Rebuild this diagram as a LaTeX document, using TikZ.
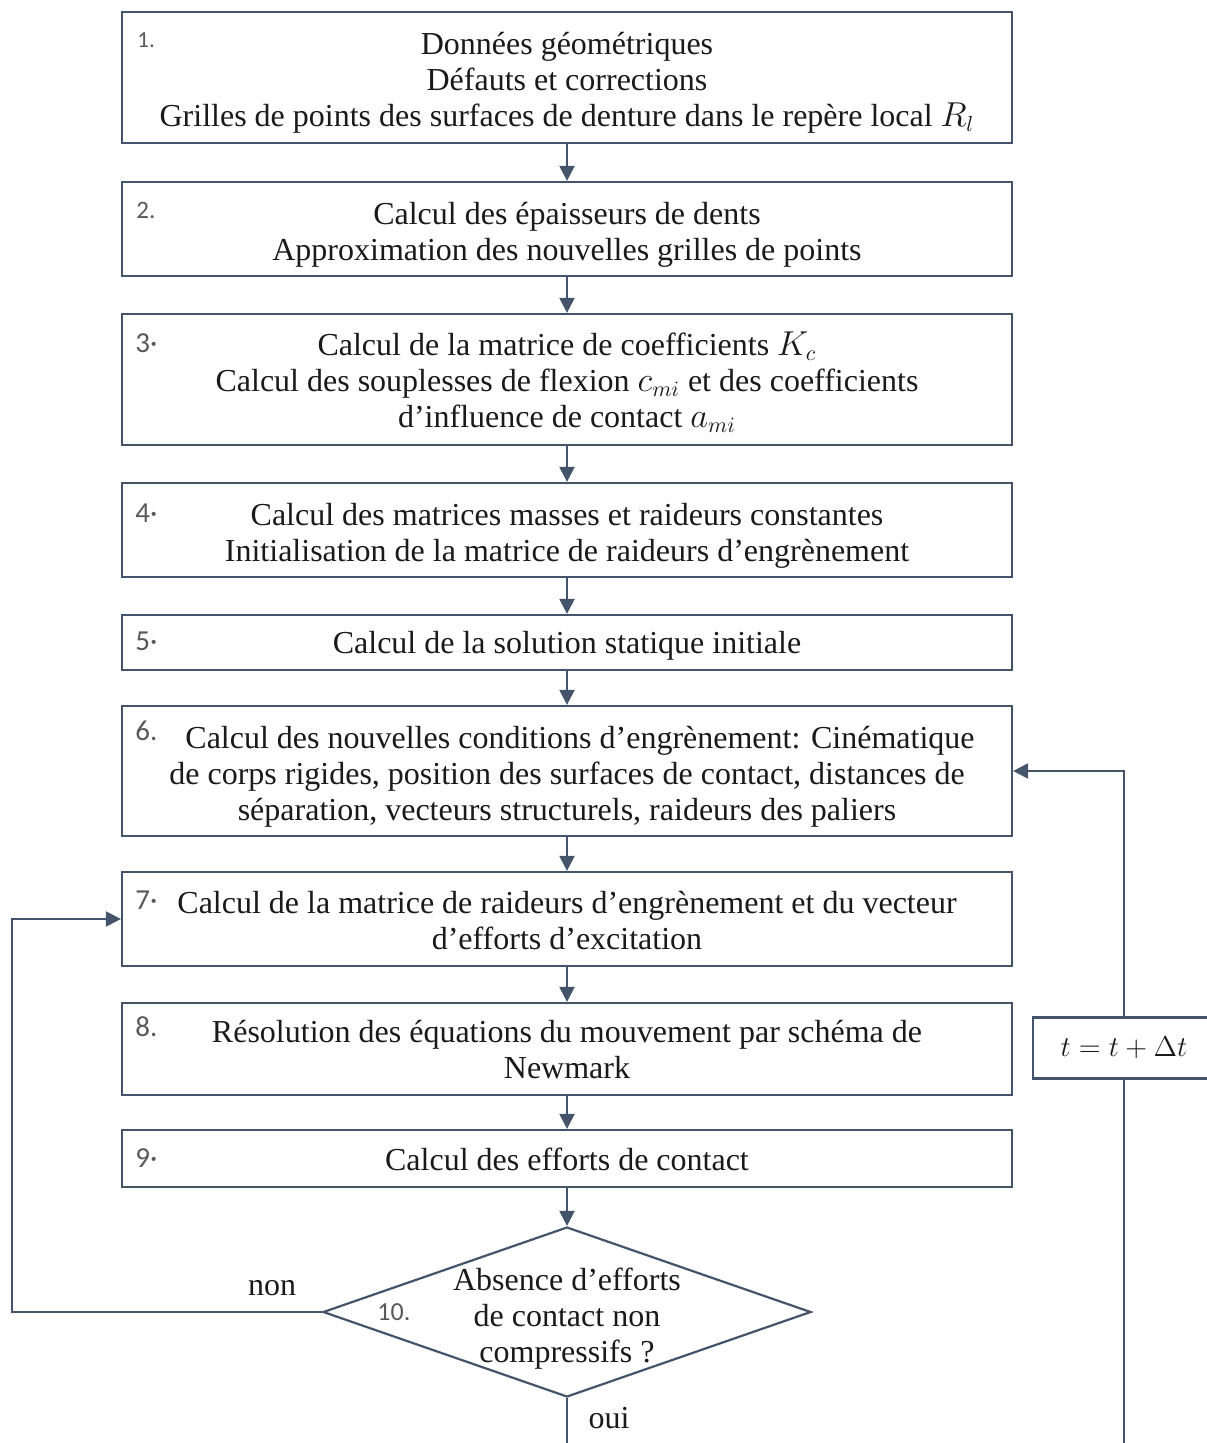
\documentclass[tikz,border=0pt]{standalone}
\usepackage{fontspec}
\setmainfont{Liberation Serif}
\newfontfamily\numfont{Carlito}
\usetikzlibrary{arrows.meta,shapes.geometric}
\definecolor{ln}{HTML}{44546A}
\definecolor{nm}{HTML}{595959}
\definecolor{tx}{HTML}{1A1A1A}
\newcommand\lowertext[2]{\raisebox{-#1}[\height][\depth]{\begin{tabular}{@{}c@{}}#2\end{tabular}}}
\begin{document}
\begin{tikzpicture}[x=0.5pt,y=-0.5pt,
  every node/.style={text=tx},
  box/.style={draw=ln, line width=1.1pt, fill=white, minimum width=445pt,
    inner sep=0pt, font=\fontsize{16}{18}\selectfont},
  numlbl/.style={text=nm, anchor=west, inner sep=0pt},
  arr/.style={draw=ln, line width=1.1pt, -{Triangle[width=7.5pt,length=7.5pt]}},
  lnk/.style={draw=ln, line width=1.1pt},
  lbl/.style={font=\fontsize{16}{18}\selectfont}]
\useasboundingbox (0,0) rectangle (1206,1443);

\node[box, minimum height=65.5pt] (b1) at (567,77.5)
  {\lowertext{3pt}{Données géométriques\\Défauts et corrections\\Grilles de points des surfaces de denture dans le repère local $R_l$}};
\node[box, minimum height=47pt] (b2) at (567,229)
  {\lowertext{3pt}{Calcul des épaisseurs de dents\\Approximation des nouvelles grilles de points}};
\node[box, minimum height=65.5pt] (b3) at (567,379.5)
  {\lowertext{2.5pt}{Calcul de la matrice de coefficients $K_c$\\Calcul des souplesses de flexion $c_{mi}$ et des coefficients\\d’influence de contact $a_{mi}$}};
\node[box, minimum height=47pt] (b4) at (567,530)
  {\lowertext{3pt}{Calcul des matrices masses et raideurs constantes\\Initialisation de la matrice de raideurs d’engrènement}};
\node[box, minimum height=27.5pt] (b5) at (567,642.5)
  {\lowertext{2pt}{Calcul de la solution statique initiale}};
\node[box, minimum height=65pt] (b6) at (567,771)
  {\lowertext{3pt}{\hspace*{13pt}Calcul des nouvelles conditions d’engrènement: Cinématique\\de corps rigides, position des surfaces de contact, distances de\\séparation, vecteurs structurels, raideurs des paliers}};
\node[box, minimum height=47pt] (b7) at (567,919)
  {\lowertext{2.5pt}{Calcul de la matrice de raideurs d’engrènement et du vecteur\\d’efforts d’excitation}};
\node[box, minimum height=46pt] (b8) at (567,1049)
  {\lowertext{2pt}{Résolution des équations du mouvement par schéma de\\Newmark}};
\node[box, minimum height=28.5pt] (b9) at (567,1158.5)
  {\lowertext{2.5pt}{Calcul des efforts de contact}};
\node[draw=ln, line width=1.1pt, fill=white, shape=diamond, minimum width=244pt,
  minimum height=85pt, inner sep=0pt] (d10) at (567,1312) {};
\node[lbl, align=center] (d10t) at (567,1319)
  {Absence d’efforts\\de contact non\\compressifs ?};
\node[box, minimum width=91pt, minimum height=30.5pt, font=\fontsize{14}{16}\selectfont]
  (tb) at (1124,1048) {$t = t + \Delta t$};

\node[numlbl, font=\numfont\fontsize{11.5}{12}\selectfont] (n1) at (137,40) {1.};
\node[numlbl, font=\numfont\fontsize{12.5}{14}\selectfont] (n2) at (136,210) {2.};
\node[numlbl, font=\numfont\fontsize{14.5}{16}\selectfont] (n3) at (135,343) {3·};
\node[numlbl, font=\numfont\fontsize{14.5}{16}\selectfont] (n4) at (135,513) {4·};
\node[numlbl, font=\numfont\fontsize{14.5}{16}\selectfont] (n5) at (135,641) {5·};
\node[numlbl, font=\numfont\fontsize{14.5}{16}\selectfont] (n6) at (135,731) {6.};
\node[numlbl, font=\numfont\fontsize{14.5}{16}\selectfont] (n7) at (135,900) {7·};
\node[numlbl, font=\numfont\fontsize{14.5}{16}\selectfont] (n8) at (135,1027) {8.};
\node[numlbl, font=\numfont\fontsize{14.5}{16}\selectfont] (n9) at (135,1158) {9·};
\node[numlbl, font=\numfont\fontsize{13}{14}\selectfont] (n10) at (377,1312) {10.};

\draw[arr] (b1) -- (b2);
\draw[arr] (b2) -- (b3);
\draw[arr] (b3) -- (b4);
\draw[arr] (b4) -- (b5);
\draw[arr] (b5) -- (b6);
\draw[arr] (b6) -- (b7);
\draw[arr] (b7) -- (b8);
\draw[arr] (b8) -- (b9);
\draw[arr] (b9) -- (d10);

\coordinate (cl) at (12,1312);
\draw[arr] (d10.west) -- (cl) |- (b7.west);
\node[lbl] (non) at (272,1288) {non};

\coordinate (endD) at (567,1443);
\draw[lnk] (d10.south) -- (endD);
\node[lbl] (oui) at (609,1418) {oui};

\coordinate (endR) at (1124,1443);
\draw[lnk] (endR) -- (tb.south);
\draw[arr] (tb.north) |- (b6.east);
\end{tikzpicture}
\end{document}
